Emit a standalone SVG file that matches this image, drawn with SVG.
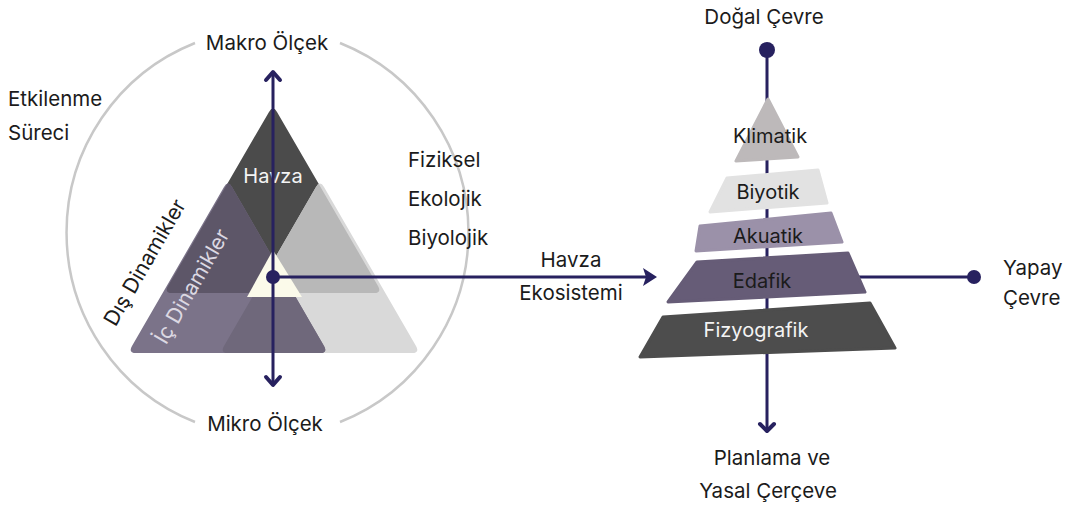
<svg xmlns="http://www.w3.org/2000/svg" width="1068" height="508" viewBox="0 0 1068 508">
<style>
text{font-family:Inter,"Liberation Sans",sans-serif;font-size:20.5px;fill:#1b1b1b}
.c{text-anchor:middle}
.s{font-size:20px}
.r{font-size:21px}
.w{fill:#f4f4f4}
.ln{stroke:#27215f;stroke-width:3;fill:none}
.hd{stroke:#27215f;stroke-width:4;fill:none;stroke-linecap:round;stroke-linejoin:round}
.dot{fill:#27215f}
.arc{stroke:#c8c8c8;stroke-width:2.5;fill:none}
.lay{stroke-width:3;stroke-linejoin:round}
</style>
<defs>
<path id="t1" d="M269,111.9 Q273,105 277,111.9 L378,286.1 Q382,293 374,293 L172,293 Q164,293 168,286.1 Z"/>
<path id="t2" d="M224,186.9 Q228,180 232,186.9 L324,346.1 Q328,353 320,353 L136,353 Q128,353 132,346.1 Z"/>
<path id="t3" d="M316,186.9 Q320,180 324,186.9 L416,346.1 Q420,353 412,353 L228,353 Q220,353 224,346.1 Z"/>
<clipPath id="c1"><use href="#t1"/></clipPath>
<clipPath id="c2"><use href="#t2"/></clipPath>
<clipPath id="c3"><use href="#t3"/></clipPath>
</defs>

<g id="circle">
<path class="arc" d="M195,43 A204,204 0 0 0 195,422"/>
<path class="arc" d="M340,43 A204,204 0 0 1 340,422"/>
</g>

<g id="triangles">
<use href="#t1" fill="#4b4b4b"/>
<use href="#t3" fill="#d9d9d9"/>
<use href="#t2" fill="#7b7389"/>
<use href="#t2" fill="#6f687b" clip-path="url(#c3)"/>
<use href="#t2" fill="#5d5668" clip-path="url(#c1)"/>
<use href="#t3" fill="#b8b8b8" clip-path="url(#c1)"/>
<polygon id="center" points="273,250 247,297 302,297" fill="#fbfaea"/>
<text class="c w s" x="273" y="183">Havza</text>
<text class="c r" style="fill:#dcd8e2" transform="translate(198,290) rotate(-60)">İç Dinamikler</text>
</g>

<g id="labels-left">
<text class="c" x="267" y="50">Makro Ölçek</text>
<text class="c" x="265" y="431">Mikro Ölçek</text>
<text x="8" y="106">Etkilenme</text>
<text x="8" y="140">Süreci</text>
<text class="c r" transform="translate(151,266) rotate(-60)">Dış Dinamikler</text>
<text x="408" y="167">Fiziksel</text>
<text x="408" y="206">Ekolojik</text>
<text x="408" y="245">Biyolojik</text>
<text class="c" x="571" y="267">Havza</text>
<text class="c" x="571" y="300">Ekosistemi</text>
</g>

<g id="connectors">
<line class="ln" x1="273" y1="73" x2="273" y2="385"/>
<polyline class="hd" points="266,80 273,72 280,80"/>
<polyline class="hd" points="266,377 273,385 280,377"/>
<line class="ln" x1="273" y1="277" x2="648" y2="277"/>
<polygon class="dot" points="657,277 643,268 646,277 643,286"/>
<circle class="dot" cx="273" cy="277" r="7"/>
<line class="ln" x1="767" y1="50" x2="767" y2="430"/>
<polyline class="hd" points="760,424 767,431 774,424"/>
<circle class="dot" cx="767" cy="50" r="8"/>
<line class="ln" x1="767" y1="277" x2="974" y2="277"/>
<circle class="dot" cx="974" cy="277" r="7"/>
</g>

<g id="klimatik">
<polygon class="lay" points="768,99 736,161 798,157" fill="#bdb9ba" stroke="#bdb9ba"/>
<text class="c s" x="770" y="143">Klimatik</text>
</g>
<g id="biyotik">
<polygon class="lay" points="727,178 818,170 827,203 710,212" fill="#e2e2e2" stroke="#e2e2e2"/>
<text class="c s" x="768" y="199">Biyotik</text>
</g>
<g id="akuatik">
<polygon class="lay" points="700,226 831,213 842,242 696,251" fill="#9b91a9" stroke="#9b91a9"/>
<text class="c s" x="768" y="243">Akuatik</text>
</g>
<g id="edafik">
<polygon class="lay" points="697,262 848,253 865,292 668,302" fill="#665c77" stroke="#665c77"/>
<text class="c s" x="762" y="288">Edafik</text>
</g>
<g id="fizyografik">
<polygon class="lay" points="663,317 870,303 895,348 640,357" fill="#4d4d4d" stroke="#4d4d4d"/>
<text class="c s w" x="756" y="337">Fizyografik</text>
</g>

<g id="labels-right">
<text class="c" x="764" y="24">Doğal Çevre</text>
<text x="1003" y="275">Yapay</text>
<text x="1003" y="305">Çevre</text>
<text class="c" x="772" y="465">Planlama ve</text>
<text class="c" x="768" y="498">Yasal Çerçeve</text>
</g>
</svg>
